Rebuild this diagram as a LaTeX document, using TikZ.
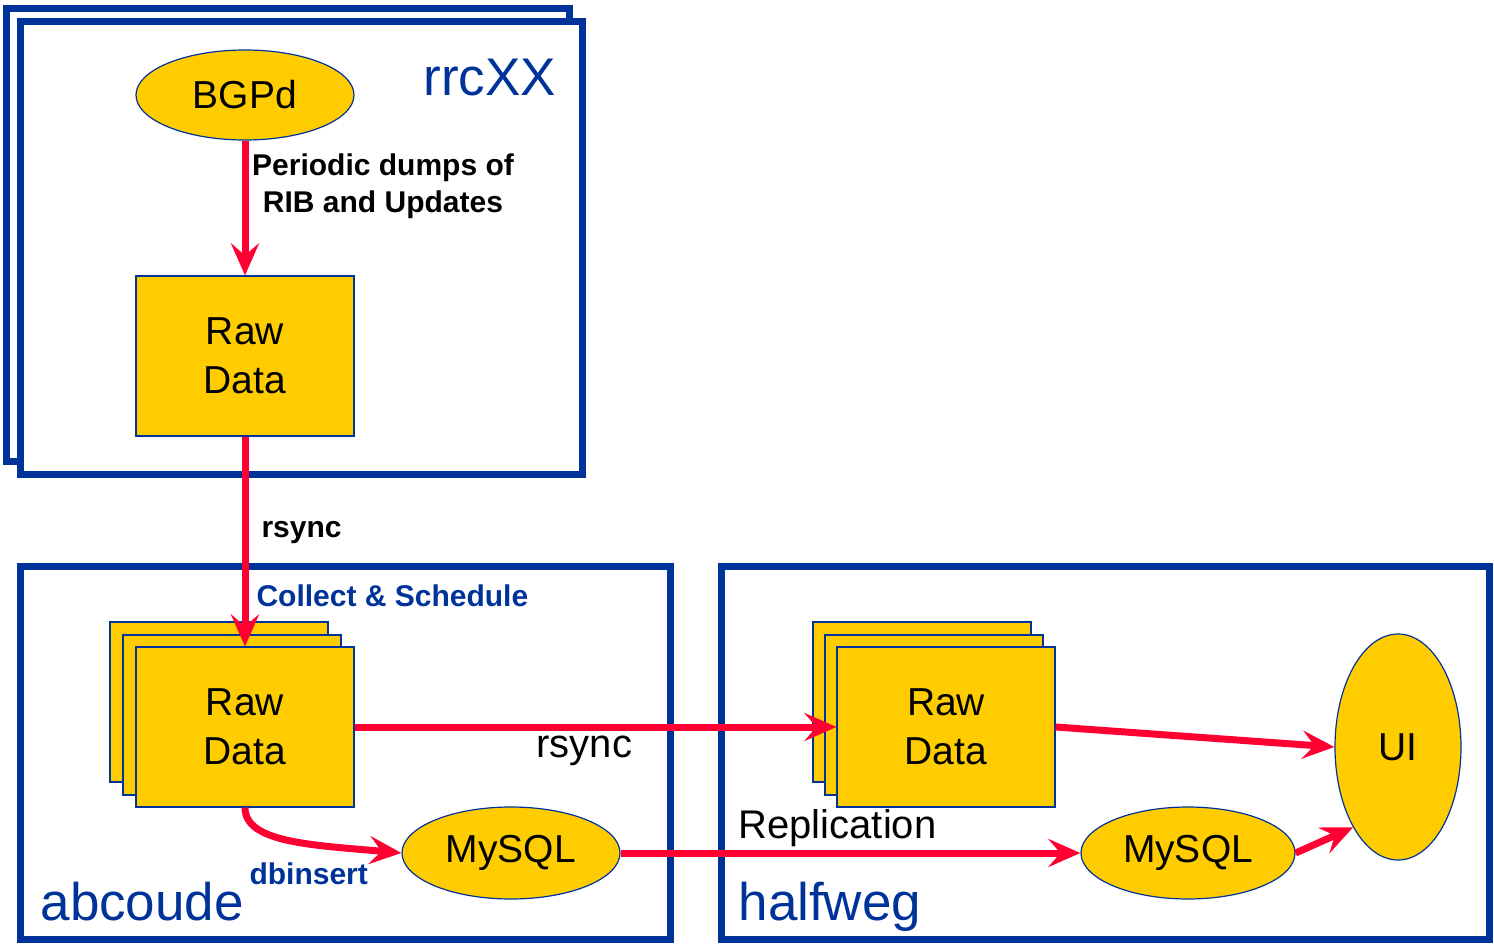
\documentclass[tikz,border=0pt]{standalone}
\usepackage{fontspec}
\setmainfont{Liberation Sans}
\usetikzlibrary{arrows.meta,shapes.geometric}
\definecolor{yellowfill}{HTML}{FFCC00}
\definecolor{frameblue}{HTML}{003399}
\definecolor{arrowred}{HTML}{FF0033}

\begin{document}
\begin{tikzpicture}[x=1pt,y=-1pt,line join=miter,
	databox/.style={draw=frameblue,fill=yellowfill,line width=1.2pt,minimum width=218pt,minimum height=160pt,inner sep=0pt,align=center,font=\fontsize{39}{49}\selectfont},
	procnode/.style={ellipse,draw=frameblue,fill=yellowfill,line width=1.2pt,inner sep=0pt,font=\fontsize{39}{49}\selectfont},
	hostframe/.style={draw=frameblue,line width=7pt},
	hostname/.style={anchor=base west,text=frameblue,font=\fontsize{53}{60}\selectfont},
	steplabel/.style={anchor=base west,font=\bfseries\fontsize{30}{37}\selectfont},
	flowlabel/.style={anchor=base west,font=\fontsize{40}{48}\selectfont},
	flow/.style={draw=arrowred,line width=7pt,-{Stealth[length=32pt,width=28pt,inset=12pt]}}]
\useasboundingbox (0,0) rectangle (1494,945);
% rrcXX (two copies)
\draw[hostframe,fill=white] (6.5,8.5) rectangle (569.5,461);
\draw[hostframe,fill=white] (20.5,21.5) rectangle (582.5,474);
\node[hostname] (hostrrc) at (420,95) {rrcXX};
\node[procnode,minimum width=218pt,minimum height=90pt] (bgpd) at (245,95) {BGPd};
\node[databox] (rawrrc) at (245,356) {Raw\\Data};
\node[steplabel,anchor=center,align=center] (lbldump) at (383,186) {Periodic dumps of\\RIB and Updates};
% abcoude
\draw[hostframe] (20.5,566.5) rectangle (670.5,939.5);
\node[hostname] (hostabc) at (37,920) {abcoude};
\node[steplabel,text=frameblue] (lblcollect) at (253,606) {Collect \& Schedule};
\node[databox] (rawabc3) at (219,702) {};
\node[databox] (rawabc2) at (232,715) {};
\node[databox] (rawabc) at (245,727) {Raw\\Data};
\node[procnode,minimum width=218pt,minimum height=92pt] (sqlabc) at (511,853) {MySQL};
\node[steplabel,text=frameblue] (lbldbins) at (246,884) {dbinsert};
% halfweg
\draw[hostframe] (721.5,566.5) rectangle (1489.5,939.5);
\node[hostname] (hosthalf) at (735,920) {halfweg};
\node[databox] (rawhalf3) at (922,702) {};
\node[databox] (rawhalf2) at (934,715) {};
\node[databox] (rawhalf) at (946,727) {Raw\\Data};
\node[procnode,minimum width=214pt,minimum height=92pt] (sqlhalf) at (1188,853) {MySQL};
\node[procnode,minimum width=126pt,minimum height=226pt] (ui) at (1398,747) {UI};
% flows
\draw[flow] (bgpd.south) -- (rawrrc.north);
\draw[flow] (rawrrc.south) -- (rawabc.north);
\node[steplabel] (lblrsync1) at (258,537) {rsync};
\draw[flow] (rawabc.south) .. controls +(0,35) and +(-90,-8) .. (sqlabc.west);
\draw[flow] (rawabc.east) -- (rawhalf.west);
\node[flowlabel] (lblrsync2) at (533,757) {rsync};
\draw[flow] (sqlabc.east) -- (sqlhalf.west);
\node[flowlabel] (lblrepl) at (735,838) {Replication};
\draw[flow] (rawhalf.east) -- (ui.west);
\draw[flow] (sqlhalf.east) -- (ui.south west);
\end{tikzpicture}
\end{document}
